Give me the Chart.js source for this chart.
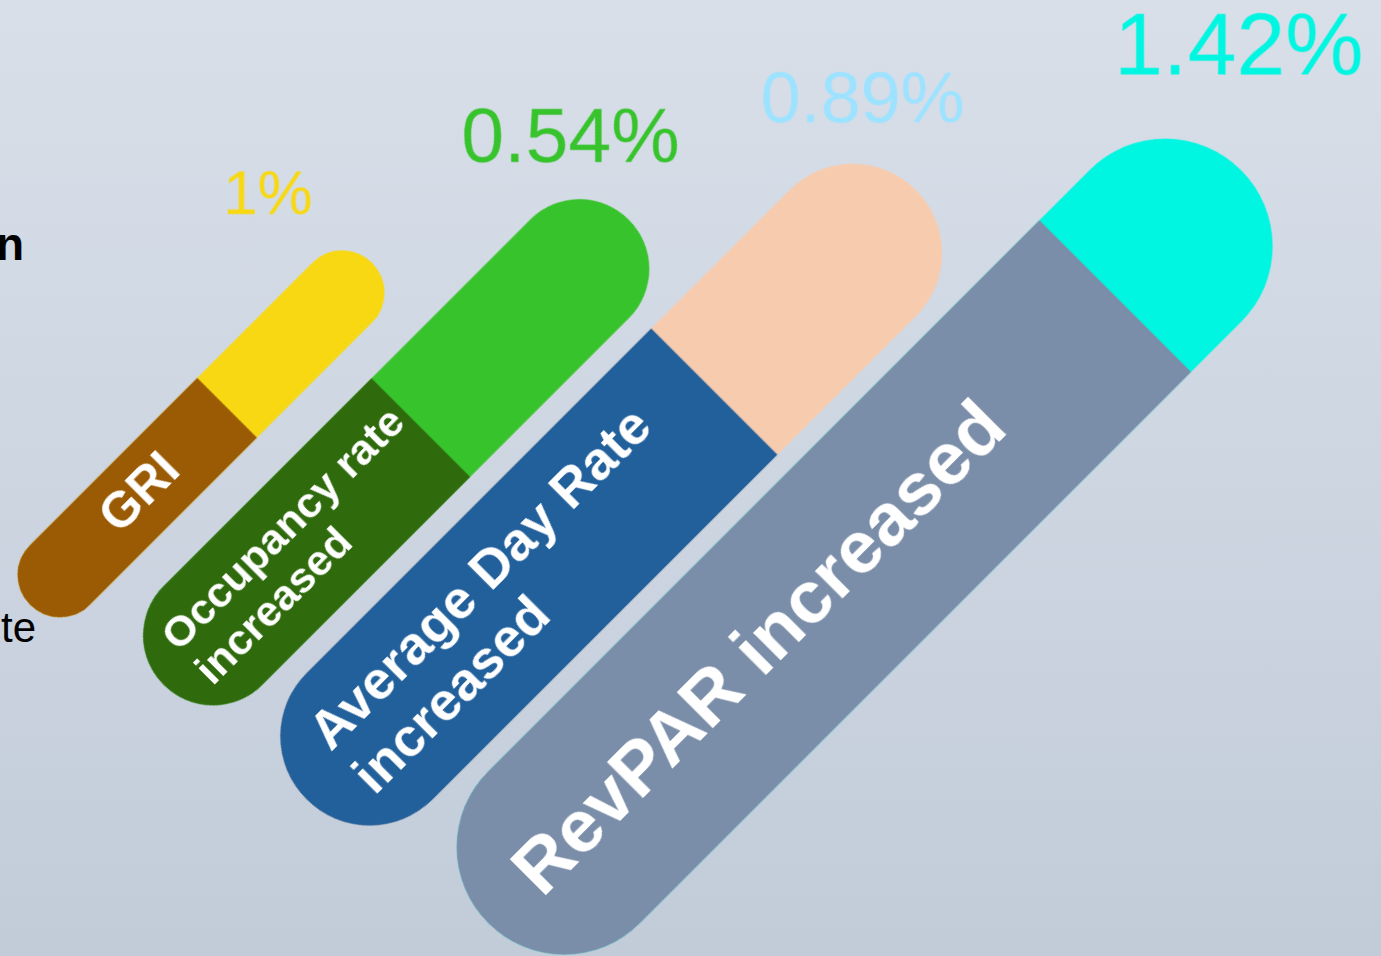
<!DOCTYPE html>
<html>
<head>
<meta charset="utf-8">
<script src="https://cdn.jsdelivr.net/npm/chart.js@4.4.0/dist/chart.umd.min.js"></script>
<style>
  html, body { margin: 0; padding: 0; }
  body {
    width: 1381px; height: 956px; overflow: hidden; position: relative;
    background: linear-gradient(#d8dfe9, #c2ccd9);
    font-family: "Liberation Sans", Arial, sans-serif;
  }
  /* the whole chart is laid on its side, bars run up and to the right */
  #tilt { position: absolute; left: -142.9px; top: -355px; width: 1700px; height: 1700px; transform: rotate(-45deg); }
  .side { position: absolute; color: #000; line-height: 1; white-space: nowrap; }
</style>
</head>
<body>
<div class="side" style="left:-4px; top:221px; font-size:46px; font-weight:bold;">n</div>
<div class="side" style="left:1px; top:607px; font-size:42px;">te</div>
<div id="tilt"><canvas id="growthChart"></canvas></div>
<script>
// data
const categories = ['GRI', ['Occupancy rate', 'increased'], ['Average Day Rate', 'increased'], 'RevPAR increased'];
const lanes = [4.49, 6.0, 7.82, 9.98];          // position on the cross axis
const barStart = [-4.06, -3.68, -3.48, -3.07];
const barSplit = [-1.28, -0.05, 2.28, 5.79];
const barEnd = [0.77, 2.89, 5.13, 7.57];
const changePct = [1, 0.54, 0.89, 1.42];

// styles
const darkColors = ['#9a5b04', '#2f6b0d', '#22609c', '#7b8ea9'];
const lightColors = ['#f7d813', '#37c32c', '#f7cbae', '#00f6e0'];
const pctColors = ['#f7d813', '#37c32c', '#9de2ff', '#00f6e0'];
const thickness = [84, 139, 178, 214];
const textSize = [50, 43, 54, 75];
const lineGap = [0, 48, 62, 0];
const textPad = [112, 33, 50, 55];
const pctSize = [62, 77, 72, 88];
const pctOffset = [[-104, -49], [-58, -58], [-53, -68], [-2, -96]];
const FONT = '"Liberation Sans", Arial, sans-serif';

const datasets = categories.map((c, i) => ({
  label: [].concat(c).join(' '),
  data: [
    { y: lanes[i], x: [barStart[i], barEnd[i]] },
    { y: lanes[i], x: [barStart[i], barSplit[i]] }
  ],
  backgroundColor: [lightColors[i], darkColors[i]],
  borderRadius: ctx => ctx.dataIndex === 0 ? 999 : { topLeft: 999, bottomLeft: 999, topRight: 0, bottomRight: 0 },
  borderSkipped: false,
  barThickness: thickness[i],
  grouped: false
}));

const barText = {
  id: 'barText',
  afterDatasetsDraw(chart) {
    const ctx = chart.ctx;
    chart.data.datasets.forEach((ds, i) => {
      const meta = chart.getDatasetMeta(i);
      const whole = meta.data[0], part = meta.data[1];
      const left = Math.min(part.x, part.base);
      const lines = [].concat(categories[i]);
      ctx.save();
      ctx.fillStyle = '#fff';
      ctx.font = 'bold ' + textSize[i] + 'px ' + FONT;
      ctx.textAlign = 'left';
      ctx.textBaseline = 'middle';
      lines.forEach((line, k) => {
        const y = part.y + (k - (lines.length - 1) / 2) * lineGap[i];
        ctx.fillText(line, left + textPad[i], y);
      });
      // percentage stays level on screen
      const tip = Math.max(whole.x, whole.base);
      ctx.translate(tip, whole.y);
      ctx.rotate(Math.PI / 4);
      ctx.font = pctSize[i] + 'px ' + FONT;
      ctx.fillStyle = pctColors[i];
      ctx.textAlign = 'center';
      ctx.textBaseline = 'alphabetic';
      ctx.fillText(changePct[i] + '%', pctOffset[i][0], pctOffset[i][1]);
      ctx.restore();
    });
  }
};

new Chart(document.getElementById('growthChart'), {
  type: 'bar',
  data: { datasets },
  plugins: [barText],
  options: {
    indexAxis: 'y',
    responsive: true,
    maintainAspectRatio: false,
    animation: false,
    events: [],
    layout: { padding: 0 },
    plugins: { legend: { display: false }, tooltip: { enabled: false } },
    scales: {
      x: { type: 'linear', display: false, min: -7, max: 10 },
      y: { type: 'linear', display: false, min: 0, max: 17, reverse: true, offset: false }
    }
  }
});
</script>
</body>
</html>
